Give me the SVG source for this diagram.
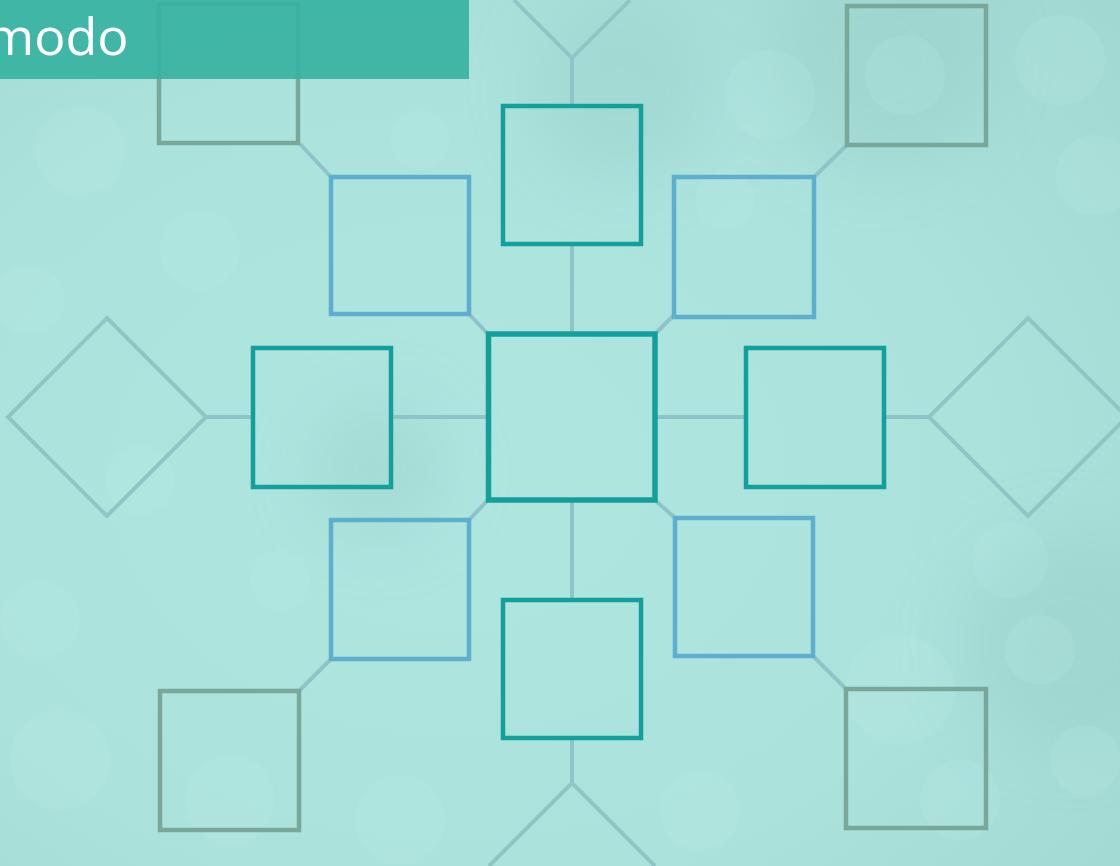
<svg xmlns="http://www.w3.org/2000/svg" width="1120" height="866" viewBox="0 0 1120 866">
<defs>
<radialGradient id="bg" cx="0.4" cy="0.55" r="0.8">
<stop offset="0" stop-color="#b0e6e0"/>
<stop offset="0.6" stop-color="#ace2dc"/>
<stop offset="1" stop-color="#a2d8d2"/>
</radialGradient>
<filter id="soft" x="-50%" y="-50%" width="200%" height="200%"><feGaussianBlur stdDeviation="30"/></filter>
<style>
.conn{stroke:#8ec4c7;stroke-width:4;fill:none;stroke-linecap:butt}
.dia{stroke:#90c5c6;stroke-width:4;fill:none}
.teal{stroke:#13a09d;stroke-width:4.5;fill:none}
.blue{stroke:#5eafcf;stroke-width:4.5;fill:none}
.corner{stroke:#79a89a;stroke-width:4.5;fill:none}
.bokeh{fill:#bff0ea;opacity:0.18}
.dark{fill:#8fc6c0;opacity:0.3}
</style>
</defs>
<rect x="0" y="0" width="1120" height="866" fill="url(#bg)"/>
<g id="background-bokeh">
<g filter="url(#soft)">
<circle class="dark" cx="1070" cy="640" r="110"/>
<circle class="dark" cx="880" cy="60" r="110"/>
<circle class="dark" cx="620" cy="90" r="90"/>
<circle class="dark" cx="380" cy="470" r="70"/>
</g>
<circle class="bokeh" cx="770" cy="95" r="45"/>
<circle class="bokeh" cx="905" cy="75" r="40"/>
<circle class="bokeh" cx="1060" cy="60" r="45"/>
<circle class="bokeh" cx="1095" cy="175" r="40"/>
<circle class="bokeh" cx="725" cy="200" r="30"/>
<circle class="bokeh" cx="1010" cy="560" r="38"/>
<circle class="bokeh" cx="1040" cy="650" r="35"/>
<circle class="bokeh" cx="900" cy="690" r="55"/>
<circle class="bokeh" cx="960" cy="800" r="40"/>
<circle class="bokeh" cx="1085" cy="760" r="35"/>
<circle class="bokeh" cx="40" cy="620" r="40"/>
<circle class="bokeh" cx="60" cy="760" r="50"/>
<circle class="bokeh" cx="230" cy="800" r="45"/>
<circle class="bokeh" cx="400" cy="820" r="45"/>
<circle class="bokeh" cx="280" cy="580" r="30"/>
<circle class="bokeh" cx="80" cy="150" r="45"/>
<circle class="bokeh" cx="30" cy="300" r="35"/>
<circle class="bokeh" cx="200" cy="250" r="40"/>
<circle class="bokeh" cx="420" cy="140" r="30"/>
<circle class="bokeh" cx="700" cy="810" r="40"/>
<circle class="bokeh" cx="140" cy="480" r="35"/>
</g>
<g id="connectors">
<line class="conn" x1="572" y1="58" x2="572" y2="104"/>
<line class="conn" x1="572" y1="246" x2="572" y2="332"/>
<line class="conn" x1="572" y1="502" x2="572" y2="598"/>
<line class="conn" x1="572" y1="740" x2="572" y2="783"/>
<line class="conn" x1="207" y1="417" x2="251" y2="417"/>
<line class="conn" x1="393" y1="417" x2="486" y2="417"/>
<line class="conn" x1="657" y1="417" x2="744" y2="417"/>
<line class="conn" x1="886" y1="417" x2="929" y2="417"/>
<line class="conn" x1="300" y1="144" x2="330" y2="176"/>
<line class="conn" x1="470" y1="315" x2="487" y2="333"/>
<line class="conn" x1="846" y1="146" x2="815" y2="176"/>
<line class="conn" x1="673" y1="316" x2="656" y2="333"/>
<line class="conn" x1="487" y1="501" x2="470" y2="519"/>
<line class="conn" x1="330" y1="660" x2="300" y2="690"/>
<line class="conn" x1="656" y1="501" x2="674" y2="517"/>
<line class="conn" x1="814" y1="657" x2="845" y2="688"/>
</g>
<g id="diamond-top"><polyline class="dia" points="514,0 572,58 630,0"/></g>
<g id="diamond-bottom"><polyline class="dia" points="489,866 572,783 655,866"/></g>
<g id="diamond-left"><polygon class="dia" points="107,318 206,417 107,516 8,417"/></g>
<g id="diamond-right"><polygon class="dia" points="1028,318 1127,417 1028,516 929,417"/></g>
<g id="box-center"><rect class="teal" style="stroke-width:5.5" x="488.5" y="334" width="166.5" height="166"/></g>
<g id="box-top"><rect class="teal" x="503" y="106" width="138" height="138"/></g>
<g id="box-bottom"><rect class="teal" x="503" y="600" width="138" height="138"/></g>
<g id="box-left"><rect class="teal" x="253" y="348" width="138" height="139"/></g>
<g id="box-right"><rect class="teal" x="746" y="348" width="138" height="139"/></g>
<g id="box-blue-tl"><rect class="blue" x="331" y="177" width="138" height="137"/></g>
<g id="box-blue-tr"><rect class="blue" x="674" y="177" width="140" height="140"/></g>
<g id="box-blue-bl"><rect class="blue" x="331" y="520" width="138" height="139"/></g>
<g id="box-blue-br"><rect class="blue" x="675" y="518" width="138" height="138"/></g>
<g id="box-corner-tl"><rect class="corner" x="159" y="4" width="139" height="139"/></g>
<g id="box-corner-tr"><rect class="corner" x="847" y="6" width="139" height="139"/></g>
<g id="box-corner-bl"><rect class="corner" x="160" y="691" width="139" height="139"/></g>
<g id="box-corner-br"><rect class="corner" x="846" y="689" width="140" height="139"/></g>
<g id="title">
<rect x="0" y="0" width="469" height="79" fill="#37b2a2" opacity="0.92"/>
<text x="-14" y="55" font-family="'Open Sans', 'Noto Sans', sans-serif" font-size="52" fill="#ffffff">modo</text>
</g>
</svg>
